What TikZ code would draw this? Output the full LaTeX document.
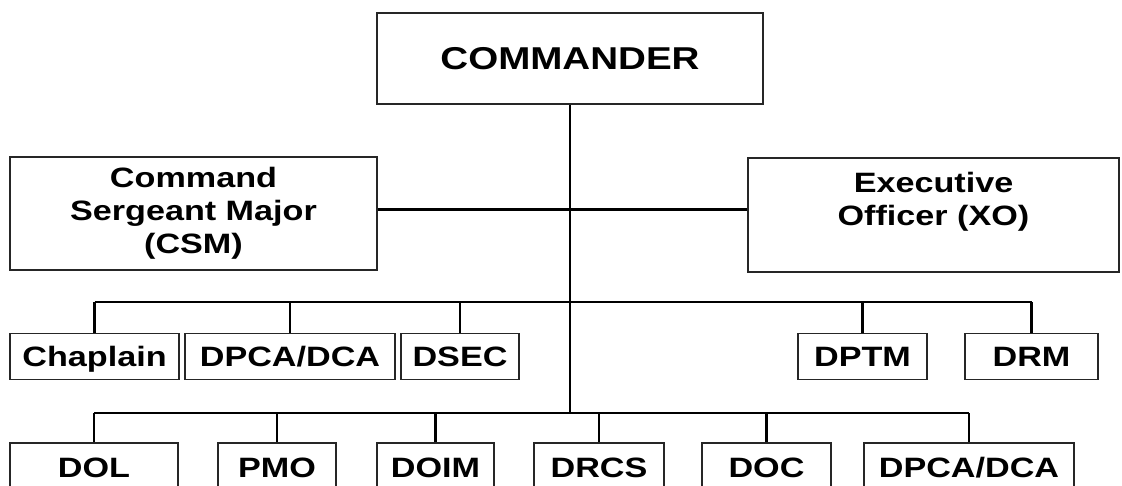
\documentclass[tikz,border=0pt]{standalone}
\usepackage{fontspec}
\newfontfamily\orgfont{Liberation Sans}[FakeStretch=1.22]
\begin{document}
\begin{tikzpicture}[
    x=0.5pt,y=-0.5pt,
    every node/.style={font=\orgfont\bfseries\fontsize{14}{16.5}\selectfont},
    box/.style={draw=black!85,line width=0.8pt,rectangle,inner sep=0pt,align=center},
    unit/.style={box,text height=10pt,text depth=0pt},
    link/.style={draw=black,line width=1.4pt}]
    \useasboundingbox (0,0) rectangle (1122,486);

    % top of the chart
    \node[box,minimum width=193pt,minimum height=45.5pt,
        font=\orgfont\bfseries\fontsize{15.8}{18}\selectfont] (cmd) at (570,58.5) {COMMANDER};
    \node[box,minimum width=183.5pt,minimum height=56.5pt] (csm) at (193.5,213.5)
        {Command\\Sergeant Major\\(CSM)};
    \node[box,minimum width=185.5pt,minimum height=57pt] (xo) at (933.5,215)
        {Executive\\Officer (XO)\\\mbox{}};

    % second row
    \foreach \n/\cx/\w/\t in {chap/94.5/169/Chaplain,dpcaa/290/210/{DPCA/DCA},dsec/460/118/DSEC,
        dptm/862.5/129/DPTM,drm/1031.5/133/DRM}
        \node[unit,minimum width=\w*0.5pt,minimum height=23pt] (\n) at (\cx,356.5) {\t};

    % third row
    \foreach \n/\cx/\w/\t in {dol/94/168/DOL,pmo/277/118/PMO,doim/435.5/117/DOIM,
        drcs/599/130/DRCS,doc/766.5/129/DOC,dpcab/969/210/{DPCA/DCA}}
        \node[unit,minimum width=\w*0.5pt,minimum height=24pt] (\n) at (\cx,467) {\t};

    \coordinate (bus2) at (570,302);
    \coordinate (bus3) at (570,413);

    \draw[link] (cmd.south) -- (cmd.south |- bus3);
    \draw[link] ([yshift=2pt]csm.east) -- ([yshift=2pt]csm.east -| xo.west);

    \draw[link] (chap.north |- bus2) -- (drm.north |- bus2);
    \foreach \n in {chap,dpcaa,dsec,dptm,drm}
        \draw[link] (\n.north) -- (\n.north |- bus2);

    \draw[link] (dol.north |- bus3) -- (dpcab.north |- bus3);
    \foreach \n in {dol,pmo,doim,drcs,doc,dpcab}
        \draw[link] (\n.north) -- (\n.north |- bus3);
\end{tikzpicture}
\end{document}
